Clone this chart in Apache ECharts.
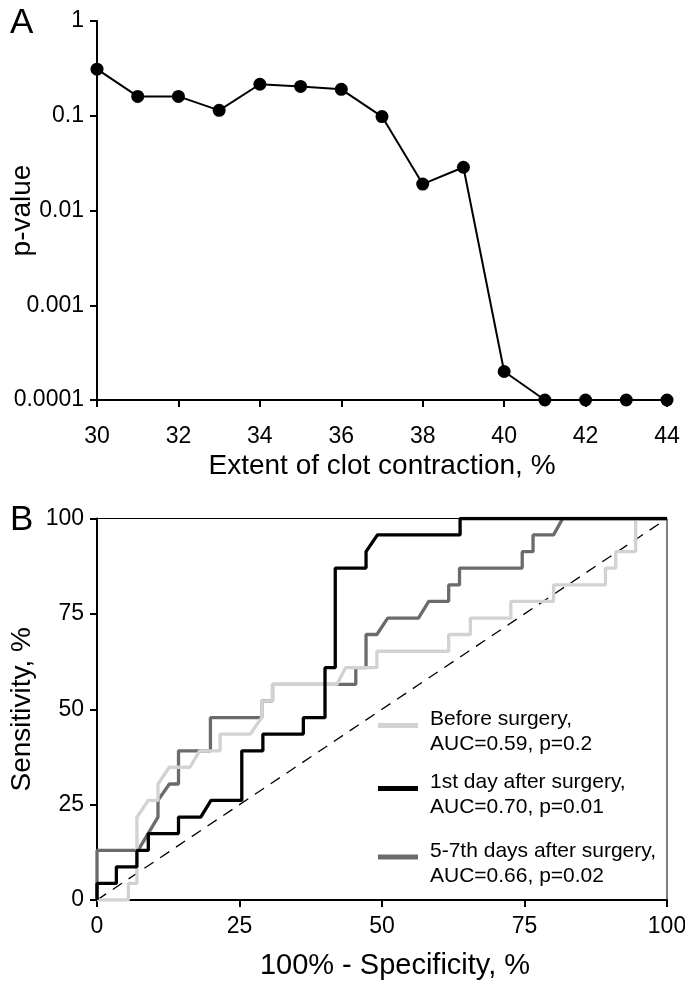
<!DOCTYPE html>
<html>
<head>
<meta charset="utf-8">
<script src="https://cdn.jsdelivr.net/npm/echarts@6/dist/echarts.min.js"></script>
<style>
html,body{margin:0;padding:0;background:#fff;}
#chart{width:685px;height:983px;}
</style>
</head>
<body>
<div id="chart"></div>
<script>
// ---------- Panel A data ----------
var contractionX = [30, 31, 32, 33, 34, 35, 36, 37, 38, 39, 40, 41, 42, 43, 44];
var pValues = [0.31, 0.16, 0.16, 0.114, 0.215, 0.204, 0.19, 0.098, 0.019, 0.0286, 0.0002, 0.0001, 0.0001, 0.0001, 0.0001];
var pTickLabels = ['0.0001', '0.001', '0.01', '0.1', '1'];

// ---------- Panel B data: [100% - specificity, sensitivity] ----------
var rocBefore = [[0,0],[5.5,0],[5.5,4.35],[7.0,4.35],[7.0,21.7],[9.0,26.1],[10.7,26.1],[10.7,30.4],[12.7,34.8],[16.3,34.8],[18.0,39.1],[21.6,39.1],[21.6,43.5],[26.9,43.5],[28.9,47.8],[28.9,52.2],[30.8,52.2],[30.8,56.5],[42.1,56.5],[43.6,60.9],[49.1,60.9],[49.1,65.2],[61.7,65.2],[61.7,69.6],[65.5,69.6],[65.5,73.9],[72.6,73.9],[72.6,78.3],[80.1,78.3],[80.1,82.6],[89.2,82.6],[89.2,87.0],[91.0,87.0],[91.0,91.3],[94.5,91.3],[94.5,100],[100,100]];
var rocDay1 = [[0,0],[0,4.35],[3.4,4.35],[3.4,8.7],[7.0,8.7],[7.0,13.0],[9.0,13.0],[9.0,17.4],[14.3,17.4],[14.3,21.7],[18.2,21.7],[20.0,26.1],[25.4,26.1],[25.4,39.1],[29.1,39.1],[29.1,43.5],[36.2,43.5],[36.2,47.8],[40.0,47.8],[40.0,60.9],[41.8,60.9],[41.8,87.0],[47.2,87.0],[47.2,91.3],[49.2,95.7],[63.7,95.7],[63.7,100],[100,100]];
var rocDay57 = [[0,0],[0,13.0],[7.2,13.0],[10.7,21.7],[10.7,26.1],[12.7,30.4],[14.3,30.4],[14.3,39.1],[19.9,39.1],[19.9,47.8],[28.9,47.8],[28.9,52.2],[30.8,52.2],[30.8,56.5],[45.4,56.5],[45.4,60.9],[47.2,60.9],[47.2,69.6],[49.1,69.6],[51.0,73.9],[56.4,73.9],[58.2,78.3],[61.7,78.3],[61.7,82.6],[63.6,82.6],[63.6,87.0],[74.6,87.0],[74.6,91.3],[76.5,91.3],[76.5,95.7],[80.1,95.7],[81.7,100],[100,100]];
var chanceLine = [[0,0],[100,100]];
var rocTicks = [0, 25, 50, 75, 100];

var seriesNames = ['Before surgery,', '1st day after surgery,', '5-7th days after surgery,'];
var seriesAUC = ['AUC=0.59, p=0.2', 'AUC=0.70, p=0.01', 'AUC=0.66, p=0.02'];

var FONT = '"Liberation Sans", Arial, Helvetica, sans-serif';

var chart = echarts.init(document.getElementById('chart'), null, {renderer: 'canvas'});

function axisCommon(extra) {
  var base = {
    axisLine: {show: true, lineStyle: {color: '#000', width: 2}},
    axisTick: {show: true, length: 7, lineStyle: {color: '#000', width: 2}},
    axisLabel: {color: '#000', fontSize: 23, fontFamily: FONT, margin: 12},
    splitLine: {show: false},
    nameLocation: 'middle',
    nameMoveOverlap: false,
    nameTextStyle: {color: '#000', fontSize: 28, fontFamily: FONT}
  };
  for (var k in extra) base[k] = extra[k];
  return base;
}

function legendFor(idx, top) {
  return {
    left: 373,
    top: top,
    orient: 'vertical',
    data: [seriesNames[idx]],
    icon: 'rect',
    itemWidth: 40,
    itemHeight: 5,
    selectedMode: false,
    formatter: function (name) {
      var i = seriesNames.indexOf(name);
      return '{s| }\n{a|' + seriesNames[i] + '}\n{a|' + seriesAUC[i] + '}';
    },
    textStyle: {
      color: '#000', fontSize: 21, fontFamily: FONT, padding: [0, 0, 0, 7],
      rich: {
        s: {fontSize: 8, lineHeight: 13, fontFamily: FONT},
        a: {fontSize: 21, lineHeight: 25, fontFamily: FONT, color: '#000'}
      }
    }
  };
}

var option = {
  backgroundColor: '#fff',
  animation: false,
  title: [
    {text: 'A', left: 5, top: 1, textStyle: {fontSize: 35, fontWeight: 'normal', color: '#000', fontFamily: FONT}},
    {text: 'B', left: 5, top: 498, textStyle: {fontSize: 35, fontWeight: 'normal', color: '#000', fontFamily: FONT}}
  ],
  grid: [
    {left: 97, top: 21, width: 570, height: 379, containLabel: false, outerBoundsMode: 'none'},
    {left: 97, top: 518.5, width: 570, height: 381.5, containLabel: false, outerBoundsMode: 'none',
      show: true, borderColor: '#000', borderWidth: 1}
  ],
  legend: [legendFor(0, 691.5), legendFor(1, 754.5), legendFor(2, 823)],
  xAxis: [
    axisCommon({gridIndex: 0, type: 'value', min: 30, max: 44, interval: 2,
      name: 'Extent of clot contraction, %', nameGap: 52,
      axisLabel: {color: '#000', fontSize: 23, fontFamily: FONT, margin: 25}}),
    axisCommon({gridIndex: 1, type: 'value', min: 0, max: 100, interval: 25,
      name: '100% - Specificity, %', nameGap: 51,
      nameTextStyle: {color: '#000', fontSize: 29, fontFamily: FONT, padding: [0, 0, 0, 26]},
      axisLabel: {color: '#000', fontSize: 23, fontFamily: FONT, margin: 15}})
  ],
  yAxis: [
    axisCommon({gridIndex: 0, type: 'log', logBase: 10, min: 0.0001, max: 1,
      name: 'p-value', nameGap: 61,
      axisLabel: {color: '#000', fontSize: 23, fontFamily: FONT, margin: 13,
        formatter: function (v) {
          var e = Math.round(Math.log(v) / Math.LN10);
          return pTickLabels[e + 4];
        }}}),
    axisCommon({gridIndex: 1, type: 'value', min: 0, max: 100, interval: 25,
      name: 'Sensitivity, %', nameGap: 61,
      axisLabel: {color: '#000', fontSize: 23, fontFamily: FONT, margin: 13,
        formatter: function (v) { return rocTicks.indexOf(v) >= 0 ? String(v) : ''; }}})
  ],
  series: [
    {
      type: 'line', xAxisIndex: 0, yAxisIndex: 0,
      data: contractionX.map(function (x, i) { return [x, pValues[i]]; }),
      symbol: 'circle', symbolSize: 13, clip: false,
      lineStyle: {color: '#000', width: 2},
      itemStyle: {color: '#000'}
    },
    {
      type: 'line', xAxisIndex: 1, yAxisIndex: 1, data: chanceLine,
      symbol: 'none', lineStyle: {color: '#000', width: 1.3, type: [11, 8]}, z: 1
    },
    {
      name: seriesNames[2], type: 'line', xAxisIndex: 1, yAxisIndex: 1, data: rocDay57,
      symbol: 'none', color: '#6b6b6b', lineStyle: {color: '#6b6b6b', width: 3.3}, z: 2
    },
    {
      name: seriesNames[0], type: 'line', xAxisIndex: 1, yAxisIndex: 1, data: rocBefore,
      symbol: 'none', color: '#d2d2d2', lineStyle: {color: '#d2d2d2', width: 3.3}, z: 3
    },
    {
      name: seriesNames[1], type: 'line', xAxisIndex: 1, yAxisIndex: 1, data: rocDay1,
      symbol: 'none', color: '#000000', lineStyle: {color: '#000', width: 3.3}, z: 4
    }
  ]
};
chart.setOption(option);
</script>
</body>
</html>
